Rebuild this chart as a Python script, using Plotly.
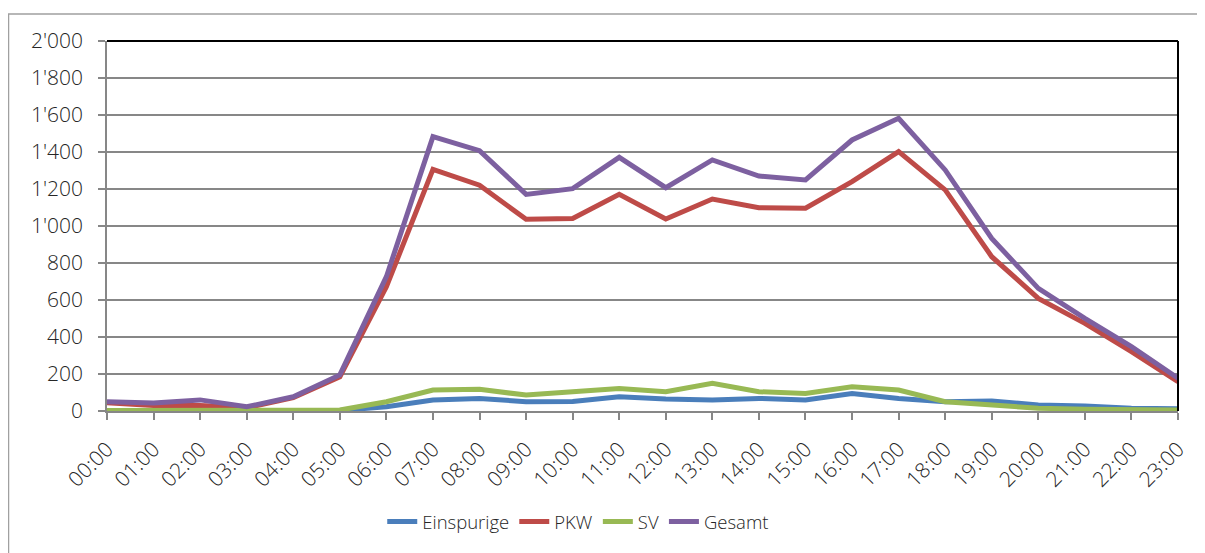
import plotly.graph_objects as go

hours = [f"{h:02d}:00" for h in range(24)]

einspurige = [2, 2, 2, 1, 2, 3, 23, 59, 68, 50, 52, 77, 65, 59, 68, 59, 95, 68, 50, 54, 32, 27, 15, 12]
pkw = [45, 30, 30, 18, 72, 185, 672, 1306, 1221, 1036, 1041, 1171, 1038, 1146, 1099, 1096, 1240, 1402, 1195, 834, 609, 474, 321, 158]
sv = [3, 3, 3, 2, 3, 5, 50, 113, 117, 86, 104, 122, 104, 150, 104, 95, 131, 113, 50, 32, 15, 10, 5, 5]
gesamt = [50, 43, 60, 23, 77, 195, 726, 1483, 1407, 1171, 1202, 1371, 1207, 1357, 1270, 1249, 1465, 1582, 1303, 933, 663, 501, 348, 177]

series = [
    ("Einspurige", einspurige, "#4A7EBB"),
    ("PKW", pkw, "#BE4B48"),
    ("SV", sv, "#98B954"),
    ("Gesamt", gesamt, "#7D60A0"),
]

fig = go.Figure()
for name, vals, col in series:
    fig.add_trace(go.Scatter(x=hours, y=vals, name=name, mode="lines",
                             line=dict(color=col, width=5)))

# page has an 8px body margin; figure coordinates are page minus 8
OFF = 8
L, R, T, B = 107 - OFF, 1178 - OFF, 41 - OFF, 411 - OFF
W, H = 1205 - OFF, 553 - OFF
pw, ph = R - L, B - T

fig.update_layout(
    width=W, height=H,
    margin=dict(l=L, r=W - R, t=T, b=H - B, pad=0),
    paper_bgcolor="white", plot_bgcolor="white",
    font=dict(family="Open Sans", size=21, color="#262626", weight=300),
    separators=".'",
    showlegend=True,
    legend=dict(orientation="h", x=0.44, xanchor="center", y=-0.3, yanchor="middle",
                font=dict(size=18.5, weight=300), traceorder="normal"),
    xaxis=dict(type="category", range=[0, 23], showgrid=False,
               showline=True, linecolor="#878787", linewidth=1.5,
               ticks="outside", ticklen=7, tickcolor="#878787", tickwidth=1.5,
               tickangle=-45, zeroline=False, ticklabelstandoff=9),
    yaxis=dict(range=[0, 2000], dtick=200, tickformat=",d",
               showgrid=True, gridcolor="#878787", gridwidth=1.5,
               showline=True, linecolor="#878787", linewidth=1.5,
               ticks="outside", ticklen=7, tickcolor="#878787", tickwidth=1.5,
               zeroline=False, ticklabelstandoff=11),
)

# black top and right frame of plot area
fig.add_shape(type="line", xref="paper", yref="paper", x0=0, x1=1, y0=1, y1=1,
              line=dict(color="black", width=2))
fig.add_shape(type="line", xref="paper", yref="paper", x0=1, x1=1, y0=0, y1=1,
              line=dict(color="black", width=2))
# outer chart border
fig.add_shape(type="rect", xref="paper", yref="paper",
              x0=(0.5 - L) / pw, x1=(1195 - L) / pw,
              y0=(B - 600) / ph, y1=(B - 6) / ph,
              line=dict(color="#A0A0A0", width=1.5), layer="below")

fig.write_html("out.html")
